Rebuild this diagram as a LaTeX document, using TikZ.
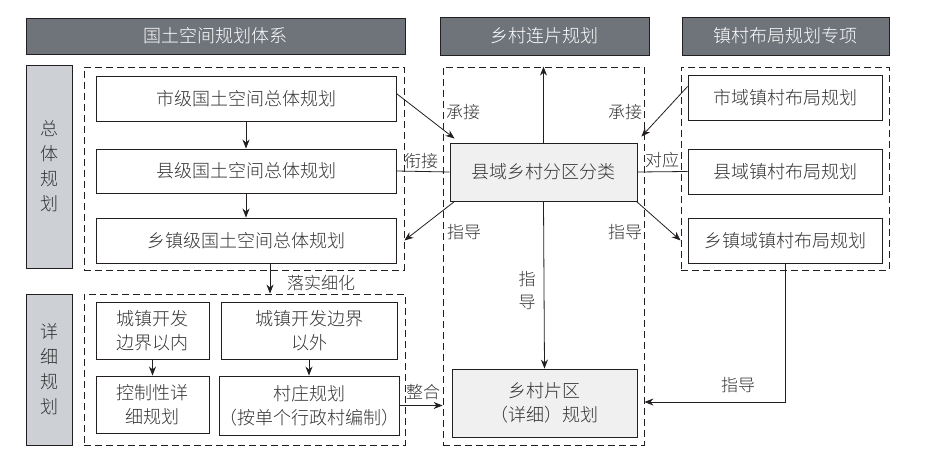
\documentclass[tikz,border=0pt]{standalone}
\usepackage{fontspec}
\setmainfont{Noto Sans CJK SC}[UprightFont=* Light]
\usetikzlibrary{arrows.meta}
\definecolor{hdgray}{HTML}{6F737A}
\definecolor{sidegray}{HTML}{CDD0D5}
\definecolor{keygray}{HTML}{F0F0F0}
\definecolor{lnblack}{HTML}{231F20}
\definecolor{txgray}{HTML}{333333}
\tikzset{
	hdbox/.style={draw=lnblack,fill=hdgray,line width=0.9pt,text=white,inner sep=0pt,font=\fontsize{18}{20}\selectfont},
	sidebox/.style={draw=lnblack,fill=sidegray,line width=0.9pt,text=txgray,minimum width=46,inner sep=0pt,align=center,font=\fontsize{18}{25}\selectfont},
	planbox/.style={draw=lnblack,line width=0.9pt,text=txgray,inner sep=0pt,align=center,font=\fontsize{18}{24}\selectfont},
	keybox/.style={planbox,fill=keygray},
	dashbox/.style={draw=lnblack,line width=0.8pt,dash pattern=on 7pt off 4pt,inner sep=0pt},
	arr/.style={draw=lnblack,line width=0.8pt,-{Stealth[length=9pt,width=7pt]}},
	lnk/.style={draw=lnblack,line width=0.8pt},
	lbl/.style={text=txgray,inner sep=0pt,font=\fontsize{17}{19}\selectfont,align=center}
}
\begin{document}
\begin{tikzpicture}[x=1pt,y=-1pt]
		\useasboundingbox (0,0) rectangle (937,462);
		% column heads
		\node[hdbox,minimum width=379,minimum height=36] (hGuotu) at (215.5,36) {国土空间规划体系};
		\node[hdbox,minimum width=209,minimum height=38] (hLianpian) at (544.5,36) {乡村连片规划};
		\node[hdbox,minimum width=207,minimum height=38] (hZhencun) at (785.5,36) {镇村布局规划专项};
		\node[sidebox,minimum height=203] (sZongti) at (49,166.5) {总\\体\\规\\划};
		\node[sidebox,minimum height=151] (sXiangxi) at (49,369.5) {详\\细\\规\\划};
		% dashed groups
		\node[dashbox,minimum width=320,minimum height=203] (gZongti) at (244,168.5) {};
		\node[dashbox,minimum width=321,minimum height=151] (gXiangxi) at (244.5,369.5) {};
		\node[dashbox,minimum width=201,minimum height=378] (gLianpian) at (543.5,256) {};
		\node[dashbox,minimum width=208,minimum height=203] (gZhencun) at (785,168.5) {};
		% boxes
		\node[planbox,minimum width=300,minimum height=45] (shiji) at (246,98.5) {市级国土空间总体规划};
		\node[planbox,minimum width=300,minimum height=44] (xianji) at (246,171) {县级国土空间总体规划};
		\node[planbox,minimum width=300,minimum height=45] (xiangzhen) at (246,240.5) {乡镇级国土空间总体规划};
		\node[planbox,minimum width=113,minimum height=57] (neiBj) at (152.5,330.5) {城镇开发\\边界以内};
		\node[planbox,minimum width=176,minimum height=57] (waiBj) at (309,330.5) {城镇开发边界\\以外};
		\node[planbox,minimum width=113,minimum height=57] (kongxiang) at (152.5,404.5) {控制性详\\细规划};
		\node[planbox,minimum width=176,minimum height=59] (cunzhuang) at (309,405.5) {村庄规划\\（按单个行政村编制）};
		\node[keybox,minimum width=187,minimum height=58] (fenqu) at (543.5,172) {县域乡村分区分类};
		\node[keybox,minimum width=185,minimum height=68] (pianqu) at (544.5,403) {乡村片区\\（详细）规划};
		\node[planbox,minimum width=194,minimum height=45] (shiyu) at (785,97.5) {市域镇村布局规划};
		\node[planbox,minimum width=194,minimum height=45] (xianyu) at (785,171.5) {县域镇村布局规划};
		\node[planbox,minimum width=194,minimum height=45] (xiangyu) at (785,240.5) {乡镇域镇村布局规划};
		% connectors
		\draw[arr] (shiji) -- (xianji);
		\draw[arr] (xianji) -- (xiangzhen);
		\draw[arr] ([xshift=24pt]xiangzhen.south) -- ([xshift=24pt]xiangzhen.south |- gXiangxi.north);
		\draw[arr] (neiBj) -- (kongxiang);
		\draw[arr] (waiBj) -- (cunzhuang);
		\draw[arr] ([yshift=5pt]shiji.east) -- ([xshift=5pt,yshift=4pt]fenqu.north west);
		\draw[lnk] (xianji.east) -- (fenqu.west);
		\draw[arr] ([xshift=5pt]fenqu.south west) -- (xiangzhen.east -| gZongti.east);
		\draw[arr] (fenqu.north) -- (gLianpian.north);
		\draw[arr] ([yshift=11pt]shiyu.west) -- ([xshift=4pt,yshift=6pt]fenqu.north east);
		\draw[lnk] (fenqu.east) -- (xianyu.west);
		\draw[arr] ([xshift=-1pt]fenqu.south east) -- (xiangyu.west -| gZhencun.west);
		\draw[arr] (fenqu.south) -- (pianqu.north);
		\draw[arr] (xiangyu.south) |- ([yshift=1pt]gLianpian.east |- pianqu.east);
		\draw[arr] (cunzhuang.east) -- (gLianpian.west |- cunzhuang.east);
		% labels
		\node[lbl] (tLuoshi) at (321,283) {落实细化};
		\node[lbl] (tCheng1) at (463,112) {承接};
		\node[lbl] (tXian) at (421,161) {衔接};
		\node[lbl] (tZhi1) at (464,232) {指导};
		\node[lbl] (tCheng2) at (625,112) {承接};
		\node[lbl] (tDui) at (662,160) {对应};
		\node[lbl] (tZhi2) at (625,232) {指导};
		\node[lbl,font=\fontsize{17}{23}\selectfont] (tZhi3) at (527,290) {指\\导};
		\node[lbl] (tZhi4) at (738,385) {指导};
		\node[lbl] (tZheng) at (423,392) {整合};
	\end{tikzpicture}
\end{document}
